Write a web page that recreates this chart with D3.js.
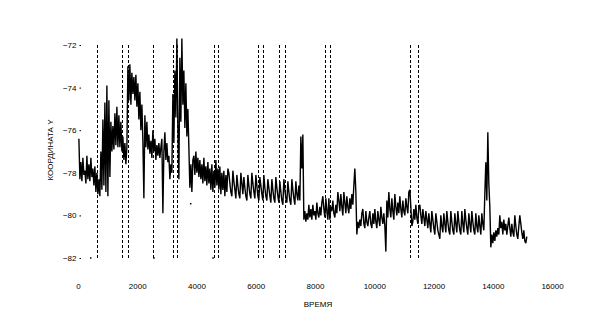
<!DOCTYPE html>
<html>
<head>
<meta charset="utf-8">
<script src="https://cdn.jsdelivr.net/npm/d3@7/dist/d3.min.js"></script>
<style>
  html, body { margin: 0; padding: 0; background: #fff; }
  svg { display: block; }
  text { font-family: "Liberation Sans", Arial, sans-serif; fill: #000; }
</style>
</head>
<body>
<svg id="chart" width="609" height="315"></svg>
<script>
// ---- data ----
const xTicks = [0, 2000, 4000, 6000, 8000, 10000, 12000, 14000, 16000];
const yTicks = [-72, -74, -76, -78, -80, -82];
const xTitle = "ВРЕМЯ";
const yTitle = "КООРДИНАТА Y";
const startTime = 30;
const timeStep = 33.75;
const yValues = [
  -76.4, -78.3, -77.5, -78.4, -77.3, -78.1, -77.9, -78.5, -77.2, -78.3,
  -77.6, -78.4, -77.3, -78.2, -77.8, -78.6, -77.7, -78.9, -78.0, -79.0,
  -78.3, -79.1, -77.0, -78.8, -75.5, -78.6, -74.7, -78.9, -73.9, -79.1,
  -74.6, -78.2, -75.6, -77.0, -75.8, -76.9, -75.2, -76.7, -74.9, -76.8,
  -75.3, -76.8, -75.6, -77.0, -76.3, -77.4, -76.6, -77.6, -76.8, -73.0,
  -74.6, -72.9, -74.8, -73.3, -74.3, -73.5, -74.6, -73.4, -74.9, -73.8,
  -75.5, -74.2, -76.0, -74.8, -76.5, -79.2, -75.3, -76.8, -75.6, -76.9,
  -76.2, -77.1, -76.5, -77.3, -76.0, -77.0, -76.4, -77.4, -76.7, -77.2,
  -76.6, -77.3, -76.8, -76.4, -79.9, -77.0, -76.1, -77.4, -76.6, -77.5,
  -77.2, -78.3, -77.6, -78.0, -74.3, -76.6, -73.2, -75.4, -71.7, -75.8,
  -78.3, -72.6, -75.6, -71.7, -74.8, -73.2, -75.9, -73.8, -76.3, -75.0,
  -76.8, -78.7, -77.6, -78.9, -77.4, -77.2, -78.1, -77.0, -78.0, -77.3,
  -78.2, -77.4, -78.3, -77.6, -78.5, -77.3, -78.4, -77.7, -78.6, -77.5,
  -78.5, -77.8, -78.8, -77.6, -78.9, -77.9, -78.7, -77.4, -78.6, -77.8,
  -78.8, -77.7, -79.0, -78.0, -78.8, -77.9, -79.1, -78.1, -78.9, -77.8,
  -78.0, -78.5, -78.9, -79.1, -77.9, -78.4, -78.8, -79.2, -78.1, -78.6,
  -79.0, -79.2, -78.0, -78.5, -79.0, -78.2, -78.7, -79.1, -79.3, -78.1,
  -78.6, -79.0, -79.2, -78.0, -78.5, -78.9, -79.2, -78.1, -78.6, -79.1,
  -79.3, -78.2, -78.6, -79.0, -79.3, -78.1, -78.7, -79.1, -79.3, -78.3,
  -78.7, -79.1, -79.4, -78.3, -78.8, -79.2, -79.4, -78.2, -78.7, -79.1,
  -79.4, -78.4, -78.9, -79.3, -79.5, -78.3, -78.8, -79.2, -79.4, -78.4,
  -78.9, -79.3, -79.5, -78.3, -78.8, -79.2, -79.5, -78.4, -79.0, -79.3,
  -78.6, -79.3, -76.3, -77.8, -76.2, -80.2, -79.8, -80.3, -79.9, -80.2,
  -79.5, -80.1, -79.7, -80.2, -79.5, -80.0, -79.8, -80.2, -79.4, -79.9,
  -80.1, -79.6, -80.0, -79.4, -79.1, -79.7, -80.1, -79.2, -79.8, -80.2,
  -79.2, -80.2, -79.6, -79.8, -79.3, -79.9, -80.1, -79.5, -79.9, -78.9,
  -79.3, -79.8, -79.0, -79.6, -80.0, -78.9, -79.4, -79.9, -79.1, -79.6,
  -79.9, -79.2, -79.7, -79.0, -79.5, -78.6, -77.8, -78.9, -80.9, -80.3,
  -80.6, -80.2, -80.5, -79.9, -79.7, -80.4, -80.6, -79.8, -80.3, -80.5,
  -80.1, -79.8, -80.4, -80.6, -79.9, -80.4, -79.7, -80.3, -80.6, -79.8,
  -80.2, -80.5, -79.6, -80.1, -80.4, -79.9, -80.5, -81.7, -79.3, -80.1,
  -78.9, -79.7, -80.1, -79.2, -79.8, -80.2, -79.0, -79.6, -80.0, -79.4,
  -79.9, -79.1, -79.7, -80.1, -79.3, -79.8, -80.0, -79.2, -79.6, -79.9,
  -78.9, -78.8, -79.6, -80.5, -80.3, -79.7, -80.2, -79.5, -80.1, -80.4,
  -79.6, -79.5, -80.0, -80.4, -79.7, -80.1, -80.5, -79.8, -80.2, -80.6,
  -79.9, -80.4, -80.8, -79.8, -80.2, -80.6, -80.9, -79.9, -80.3, -80.7,
  -80.9, -81.1, -80.0, -80.5, -80.8, -79.9, -80.4, -80.8, -79.8, -80.3,
  -80.7, -80.9, -79.8, -80.3, -80.7, -80.9, -79.9, -80.4, -80.8, -79.8,
  -80.3, -80.7, -80.9, -79.8, -80.4, -80.8, -79.7, -80.2, -80.6, -80.9,
  -79.9, -80.4, -80.8, -79.8, -80.3, -80.7, -80.9, -79.9, -80.5, -80.8,
  -80.0, -80.5, -80.9, -79.9, -80.4, -80.7, -79.0, -77.5, -79.3, -76.1,
  -78.5, -79.6, -81.5, -80.9, -81.3, -80.8, -81.2, -80.7, -81.0, -80.6,
  -80.9, -80.0, -80.6, -80.3, -80.9, -80.2, -80.7, -80.4, -80.9, -80.5,
  -80.1, -80.6, -81.0, -80.4, -80.8, -81.0, -80.0, -80.5, -80.9, -81.1,
  -80.5, -80.0, -80.4, -80.8, -81.1, -80.7, -81.2, -81.3, -81.0
];
// vertical dashed marker times
const markerTimes = [651, 1495, 1698, 2542, 3197, 3352, 4601, 4736, 6086, 6255, 6795, 6977, 8327, 8496, 11217, 11466];
// isolated single points
const dotTimes = [429, 2565, 4557, 3804];
const dotValues = [-82, -82, -82, -79.45];

// ---- layout ----
const svg = d3.select("#chart");
const x = d3.scaleLinear().domain([0, 16000]).range([78, 552]);
const y = d3.scaleLinear().domain([-82, -72]).range([258, 45]);

const series = yValues.map((v, i) => ({ t: startTime + i * timeStep, v }));

// dashed markers
svg.append("g").selectAll("line").data(markerTimes).join("line")
  .attr("x1", d => Math.round(x(d)) + 0.5).attr("x2", d => Math.round(x(d)) + 0.5)
  .attr("y1", y(-72)).attr("y2", y(-82))
  .attr("stroke", "#000").attr("stroke-width", 1)
  .attr("stroke-dasharray", "3,2");

// series line
svg.append("path").datum(series)
  .attr("fill", "none").attr("stroke", "#000").attr("stroke-width", 1.4)
  .attr("stroke-linejoin", "miter").attr("stroke-miterlimit", 2)
  .attr("d", d3.line().x(d => x(d.t)).y(d => y(d.v)));

// dots
svg.append("g").selectAll("rect").data(dotTimes).join("rect")
  .attr("x", d => x(d) - 0.75).attr("y", (d, i) => y(dotValues[i]) - 0.75)
  .attr("width", 1.5).attr("height", 1.5).attr("fill", "#000");

// x axis (no domain line)
const xAxis = svg.append("g").attr("transform", "translate(0,280)")
  .call(d3.axisBottom(x).tickValues(xTicks).tickSize(0).tickFormat(d3.format("d")));
xAxis.select(".domain").remove();
xAxis.selectAll("text").attr("font-size", 8).attr("dy", "0.71em")
  .style("font-family", "'Liberation Sans', Arial, sans-serif");

// y axis
const yAxis = svg.append("g").attr("transform", "translate(81,0)")
  .call(d3.axisLeft(y).tickValues(yTicks).tickSize(1.5).tickPadding(3).tickFormat(d3.format("d")));
yAxis.select(".domain").remove();
yAxis.selectAll("text").attr("font-size", 8)
  .style("font-family", "'Liberation Sans', Arial, sans-serif");

// titles
svg.append("text").attr("x", 318).attr("y", 307).attr("text-anchor", "middle")
  .attr("font-size", 8).text(xTitle);
svg.append("text").attr("transform", "translate(53,150) rotate(-90)")
  .attr("text-anchor", "middle").attr("font-size", 8).text(yTitle);
</script>
</body>
</html>
